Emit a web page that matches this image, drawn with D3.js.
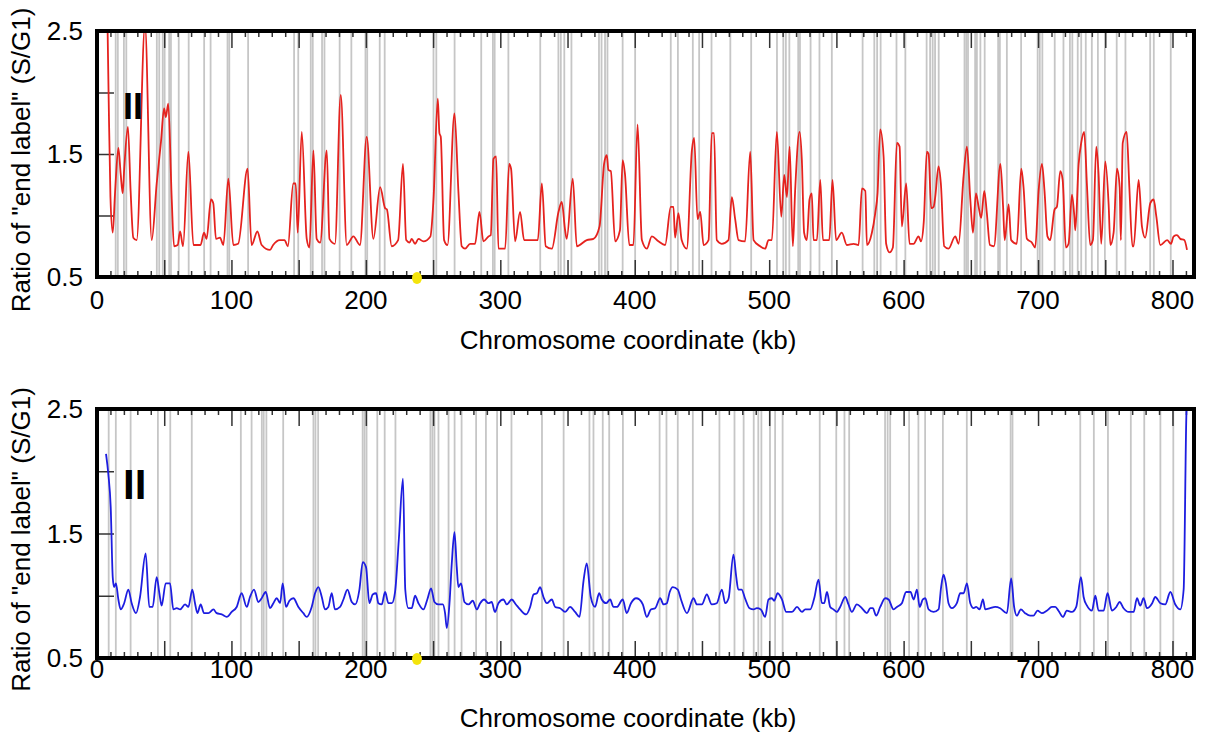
<!DOCTYPE html>
<html>
<head>
<meta charset="utf-8">
<script src="https://cdn.jsdelivr.net/npm/d3@7"></script>
<style>
  body { margin: 0; background: #fff; }
  svg text { font-family: "Liberation Sans", Arial, Helvetica, sans-serif; fill: #000; }
</style>
</head>
<body>
<div id="graphicContainer"></div>
<script>

// red profile (top), kb / ratio
var redProfile = [
[7.2,3.0],[8.6,2.0],[10.0,1.15],[11.7,0.86],[13.4,1.18],[15.9,1.55],[17.6,1.34],[19.1,1.18],[20.2,1.37],[23.0,1.72],[25.0,1.2],[27.0,0.82],[29.5,0.80],
[35.7,2.55],[40.7,0.80],[44.4,1.26],[47.6,1.60],[49.9,1.87],[51.2,1.80],[53.0,1.91],[55.6,1.13],[57.3,0.75],[60.0,0.76],[61.8,0.87],[64.0,0.75],
[68.0,1.52],[71.7,0.76],[77.0,0.76],[79.6,0.86],[81.5,0.81],[84.8,1.13],[86.5,1.10],[88.5,0.81],[91.5,0.82],[94.0,0.76],[97.7,1.30],[101.4,0.76],
[105.0,0.77],[112.0,1.38],[115.0,0.76],[119.3,0.87],[122.5,0.76],[128.7,0.72],[131.0,0.76],[136.0,0.80],[139.5,0.80],[142.0,0.75],[146.0,1.26],
[147.8,1.26],[149.3,0.86],[152.3,1.68],[156.0,0.81],[158.0,0.74],[161.0,1.53],[163.4,0.81],[166.0,0.78],[170.9,1.53],[172.9,0.81],[177.0,0.77],
[181.3,1.98],[185.8,0.76],[190.7,0.83],[195.6,0.76],[200.6,1.64],[205.6,0.81],[210.6,1.23],[214.3,1.06],[215.6,1.05],[219.2,0.75],[224.0,0.80],
[227.6,1.42],[230.0,0.80],[232.5,0.78],[234.1,0.81],[236.6,0.77],[239.1,0.81],[242.8,0.79],[248.0,0.83],[250.3,1.13],[253.5,1.95],[254.7,1.67],
[255.7,1.64],[258.2,0.80],[260.7,0.76],[265.9,1.83],[268.9,1.18],[271.3,0.75],[273.8,0.73],[277.5,0.77],[281.2,0.77],[284.5,1.03],[287.4,0.79],
[291.2,0.83],[292.9,0.84],[294.9,1.46],[296.9,1.48],[298.6,0.73],[303.6,0.73],[306.6,1.42],[308.0,1.38],[311.0,0.79],[314.7,1.03],[317.7,0.80],
[322.2,0.80],[327.9,0.80],[330.9,1.26],[333.8,0.75],[338.3,0.73],[343.3,1.03],[345.7,1.11],[348.2,0.88],[349.4,0.81],[353.9,1.30],[356.9,0.75],
[364.3,0.80],[369.3,0.81],[373.8,0.91],[377.2,1.42],[379.2,1.49],[380.4,1.37],[382.2,1.36],[385.4,0.79],[389.0,0.88],[391.0,1.45],[392.7,1.34],
[396.0,0.76],[399.0,0.76],[402.1,1.74],[405.3,0.80],[409.0,0.73],[412.7,0.83],[417.6,0.79],[422.6,0.76],[426.8,1.07],[428.8,1.07],[430.0,0.82],
[432.5,1.02],[434.9,0.80],[438.7,0.73],[442.5,1.53],[444.2,1.63],[446.7,0.97],[448.7,1.03],[451.2,0.76],[454.9,0.80],[457.3,1.67],[459.0,1.67],
[461.0,0.80],[464.7,0.77],[469.7,0.80],[472.2,1.15],[474.7,0.97],[477.2,0.80],[482.1,0.79],[485.9,1.52],[488.4,0.80],[493.3,0.75],[497.0,0.73],
[499.5,0.80],[502.0,0.80],[505.7,1.68],[509.0,0.99],[511.2,1.33],[513.2,1.15],[515.2,1.56],[517.6,0.75],[519.3,1.20],[522.6,1.68],[524.3,1.45],
[526.0,0.86],[528.0,0.80],[530.0,1.13],[531.7,1.18],[533.0,0.80],[535.5,0.80],[538.0,1.29],[540.0,0.80],[544.7,0.80],[547.1,1.29],[549.8,0.80],
[554.0,0.86],[557.8,0.76],[562.8,0.77],[566.5,0.76],[569.0,1.22],[571.5,1.20],[572.7,0.76],[576.4,0.86],[578.9,1.02],[580.6,1.18],[582.6,1.70],
[585.1,1.48],[587.0,0.77],[589.5,0.70],[592.0,0.74],[595.0,1.59],[597.0,1.56],[598.7,0.91],[601.9,1.26],[604.4,0.77],[607.4,0.77],[611.1,0.83],
[612.9,0.79],[615.0,0.95],[617.3,1.52],[618.6,1.50],[620.5,1.06],[622.3,1.07],[623.5,1.15],[626.0,1.40],[627.7,1.26],[630.2,0.75],[633.4,0.73],
[638.4,0.83],[640.9,0.77],[644.6,1.32],[647.1,1.56],[649.6,1.13],[651.6,0.86],[653.8,1.18],[655.8,1.07],[657.7,0.98],[660.0,1.20],[661.9,1.02],
[664.2,0.76],[667.2,0.75],[672.0,1.42],[674.0,1.07],[675.2,0.80],[678.1,1.09],[680.0,0.80],[684.2,0.77],[687.5,1.38],[689.2,1.23],[691.7,0.81],
[695.4,0.78],[697.9,0.74],[700.4,1.20],[702.9,1.42],[704.8,1.20],[707.0,0.83],[709.0,0.80],[712.3,1.05],[714.0,1.07],[716.5,1.36],[718.3,1.29],
[720.7,0.74],[722.7,0.77],[725.2,1.17],[727.0,0.99],[727.7,0.88],[730.2,1.42],[732.1,1.59],[734.3,1.68],[736.4,1.24],[738.8,0.76],[740.8,0.80],
[743.3,1.56],[745.0,1.34],[747.0,0.77],[750.0,1.44],[752.5,1.09],[753.8,0.76],[756.2,0.86],[758.7,1.38],[760.7,1.23],[761.6,0.80],[763.0,1.59],
[765.9,1.68],[767.9,1.23],[770.2,0.75],[771.1,0.75],[774.8,1.29],[777.3,0.91],[779.7,0.82],[783.5,1.10],[786.0,1.13],[788.0,0.99],[790.9,0.76],
[796.0,0.80],[798.9,0.77],[800.8,0.83],[803.3,0.84],[805.8,0.81],[808.8,0.80],[810.8,0.72]
]

// blue profile (bottom), kb / ratio
var blueProfile = [
[6.7,2.14],[8.4,1.98],[10.2,1.71],[11.7,1.15],[12.7,1.07],[14.1,1.10],[15.9,0.97],[17.6,0.89],[20.2,0.94],[23.3,1.05],[25.8,0.94],[29.0,0.86],
[32.0,0.99],[36.2,1.34],[38.9,0.91],[41.4,0.91],[44.4,1.15],[46.4,1.02],[48.1,0.92],[51.1,1.10],[54.3,1.10],[56.8,0.89],[59.3,0.90],[61.8,0.89],
[65.5,0.93],[68.0,0.91],[70.9,1.05],[72.9,0.94],[74.7,0.86],[77.1,0.93],[79.6,0.86],[82.8,0.86],[86.6,0.89],[89.0,0.86],[92.8,0.85],[96.5,0.83],
[100.2,0.87],[103.9,0.91],[107.6,1.02],[111.4,0.91],[113.8,0.99],[116.8,1.05],[120.0,0.95],[122.5,0.98],[125.5,1.03],[128.7,0.90],[131.2,0.94],
[133.7,0.98],[136.2,0.94],[138.1,1.10],[140.6,0.91],[143.1,0.96],[146.1,0.98],[149.8,0.91],[153.5,0.86],[156.0,0.83],[159.7,0.91],[162.2,1.02],
[164.7,1.07],[167.2,0.99],[169.6,0.89],[172.1,0.91],[174.6,1.02],[177.0,0.89],[180.8,0.91],[183.3,0.97],[186.3,1.05],[189.5,0.95],[192.0,0.93],
[195.2,1.05],[197.7,1.27],[200.1,1.23],[202.6,0.94],[205.1,1.01],[207.6,1.02],[209.3,0.94],[211.8,0.93],[214.3,1.03],[216.8,0.94],[219.3,0.94],
[221.7,1.03],[224.5,1.45],[227.6,1.94],[229.3,1.05],[231.6,0.90],[234.1,0.90],[236.6,1.00],[239.1,0.94],[242.8,0.89],[245.7,0.97],[248.5,1.06],
[251.0,0.95],[253.9,0.93],[257.2,0.93],[258.9,0.86],[260.2,0.74],[262.2,0.94],[263.9,1.26],[265.9,1.51],[267.6,1.23],[268.8,1.07],[270.8,1.10],
[273.3,0.95],[276.3,0.93],[279.5,0.96],[282.5,0.89],[285.0,0.94],[288.0,0.97],[291.2,0.94],[293.6,0.95],[296.0,0.87],[298.6,0.94],[302.3,0.97],
[304.8,0.93],[308.5,0.97],[311.6,0.93],[314.7,0.89],[319.2,0.85],[322.2,0.91],[324.7,1.01],[327.2,1.02],[329.6,1.07],[332.1,0.99],[334.6,0.94],
[338.3,0.97],[340.8,0.91],[344.5,0.90],[348.2,0.87],[351.9,0.91],[355.6,0.87],[358.9,0.83],[361.9,1.12],[364.3,1.26],[367.3,0.99],[370.5,0.91],
[373.5,1.02],[375.5,0.97],[378.7,0.94],[381.7,0.97],[384.2,0.91],[386.7,0.91],[391.1,0.97],[394.0,0.86],[397.2,0.94],[401.0,0.98],[403.5,0.97],
[406.0,0.93],[409.0,0.83],[412.0,0.89],[415.2,0.90],[418.9,0.98],[421.4,0.93],[423.9,0.94],[426.0,1.03],[428.3,1.07],[432.0,1.05],[434.4,0.97],
[438.8,0.86],[443.7,0.98],[446.2,0.93],[449.9,0.93],[453.6,1.01],[457.3,0.93],[461.0,0.94],[464.8,1.05],[467.3,0.94],[469.8,0.98],[473.4,1.33],
[475.4,1.16],[477.0,1.05],[479.5,1.05],[482.0,0.98],[485.4,0.90],[488.4,0.89],[490.8,0.90],[493.8,0.89],[497.0,0.83],[499.5,0.97],[502.0,0.98],
[503.7,0.96],[506.3,1.02],[509.5,0.97],[512.7,0.87],[517.0,0.87],[520.7,0.91],[524.4,0.87],[526.8,0.89],[530.5,0.89],[533.5,0.98],[536.7,1.13],
[539.2,0.94],[540.9,0.94],[543.0,1.03],[545.4,0.91],[547.9,0.89],[550.3,0.87],[552.8,0.91],[556.6,0.99],[559.0,0.93],[561.5,0.87],[565.2,0.93],
[569.0,0.90],[572.7,0.86],[575.2,0.90],[577.1,0.90],[579.6,0.84],[582.6,0.91],[586.3,0.98],[588.8,0.97],[592.5,0.89],[595.0,0.91],[598.7,0.94],
[601.9,1.03],[605.1,1.03],[607.5,0.97],[609.9,1.05],[611.9,0.91],[614.3,0.97],[616.1,0.98],[618.6,0.89],[622.3,0.87],[626.0,0.89],[627.9,1.07],
[629.7,1.17],[631.4,1.10],[633.4,0.94],[635.9,0.90],[639.6,0.94],[642.1,1.02],[644.6,1.02],[647.1,1.10],[649.6,0.94],[652.1,0.90],[654.0,0.91],
[656.5,0.89],[659.0,0.97],[660.7,0.89],[664.4,0.90],[668.1,0.91],[671.8,0.90],[676.8,0.86],[680.0,1.14],[682.2,0.91],[684.2,0.84],[687.2,0.89],
[690.4,0.86],[694.1,0.84],[696.6,0.84],[699.6,0.88],[702.8,0.86],[706.5,0.88],[710.3,0.91],[712.8,0.91],[715.2,0.88],[718.5,0.83],[721.4,0.88],
[725.2,0.87],[728.4,0.91],[731.9,1.15],[733.9,0.99],[736.4,0.92],[740.1,0.88],[742.6,1.00],[745.0,0.88],[748.8,0.88],[751.7,1.02],[755.0,0.88],
[758.2,0.91],[760.7,0.95],[763.6,0.90],[767.4,0.87],[771.1,0.87],[773.6,0.98],[776.0,0.92],[778.5,0.98],[781.0,0.90],[784.9,0.94],[787.2,0.99],
[791.0,0.94],[794.6,0.93],[798.4,1.03],[802.1,0.93],[805.8,0.89],[808.3,1.05],[810.3,2.44],[811.3,2.7]
]

// origin positions (kb) shown as grey lines
var redOrigins = [13.9,15.5,20,21.8,44.5,46.3,48.9,50.3,53.7,55,60.8,68.2,79.7,84.5,97.1,98.4,112.4,146.6,149.7,159,160.5,167.4,169.2,
180.5,189.2,199.7,201,210.3,214,250.3,252.4,266,285.8,294.5,295.8,306,329.7,343.2,345,347.6,352.9,373.4,375.3,377.9,379.7,391,400.3,
426.8,432.1,443.2,447.9,457.1,471.1,486.6,505.8,510.5,512.4,515,521.6,522.9,530.8,537.4,546.6,569.5,578.2,580.3,582.9,594.7,601.3,
617.1,619.7,621.6,623.4,626.1,645.3,646.6,647.9,653.2,654.5,657.1,660.3,670.3,671.6,676.8,687.4,699.7,701.3,703.2,712.4,718.9,723.7,
725.5,729.5,732.1,735.5,740,744.5,749.7,758.5,765,783.4,786.1,798.7]

var blueOrigins = [8.7,14,25,45.3,54.5,70.5,107,115,122.6,124,126,138.5,161,162.5,164.5,197.6,199,200.5,208.5,214,222,248,249.5,251,254,
261.5,266,271.2,282,289.3,297.6,308.3,331,347.1,366.3,369.3,376.2,381,391.2,418.5,423.6,432,443.2,463,474.2,481,488.5,491.9,494.2,
500.6,504.4,510,537.6,549.9,556,559.5,586.2,588.1,590,604.1,611,616,629.2,647,679.6,681,731.4,741.5,752,769,779,791,800.6]

var centromere = 238
var xLabels = [0,100,200,300,400,500,600,700,800]
var yLabels = [0.5,1.5,2.5]
var yTicks = [1.0,1.5,2.0]

var panels = [
	{ data: redProfile, origins: redOrigins, color: "#e5221e", top: 31, bottom: 277, tickBase: 309, title: 349, roman: 36, romanY: 119, labelShift: 6 },
	{ data: blueProfile, origins: blueOrigins, color: "#1d1de0", top: 409, bottom: 658, tickBase: 678, title: 727, roman: 42, romanY: 499, labelShift: 6 }
]

var width = 1205, height = 742

var svg = d3.select("#graphicContainer").append("svg")
	.attr("width", width)
	.attr("height", height)

var x = d3.scaleLinear().domain([0, 816]).range([97, 1194])

panels.forEach(function (p, i) {

	var y = d3.scaleLinear().domain([0.5, 2.5]).range([p.bottom, p.top])
	var g = svg.append("g")

	g.append("clipPath").attr("id", "clip" + i)
		.append("rect")
		.attr("x", x(0)).attr("y", p.top)
		.attr("width", x(816) - x(0)).attr("height", p.bottom - p.top)

	// grey origin lines
	g.selectAll(".origin")
		.data(p.origins)
		.enter()
		.append("line")
		.attr("x1", d => x(d)).attr("x2", d => x(d))
		.attr("y1", p.top).attr("y2", p.bottom)
		.attr("stroke", "#c6c6c6")
		.attr("stroke-width", 1.8)

	// inward ticks, minor every 10 kb, major every 50
	var minor = d3.range(10, 811, 10).filter(d => d % 50 != 0)
	var major = d3.range(50, 801, 50)
	;[[d3.axisBottom, p.bottom], [d3.axisTop, p.top]].forEach(function (a) {
		g.append("g").attr("transform", "translate(0," + a[1] + ")")
			.call(a[0](x).tickValues(minor).tickSize(-6).tickFormat(""))
		g.append("g").attr("transform", "translate(0," + a[1] + ")")
			.call(a[0](x).tickValues(major).tickSize(-17).tickFormat(""))
	})

	g.append("g").attr("transform", "translate(" + x(0) + ",0)")
		.call(d3.axisLeft(y).tickValues(yTicks).tickSize(-17).tickFormat(""))

	g.selectAll(".domain").remove()
	g.selectAll(".tick line").attr("stroke", "#333").attr("stroke-width", 1.5)

	// profile line
	var line = d3.line().x(d => x(d[0])).y(d => y(d[1])).curve(d3.curveMonotoneX)

	g.append("path")
		.datum(p.data)
		.attr("clip-path", "url(#clip" + i + ")")
		.attr("d", line)
		.attr("fill", "none")
		.attr("stroke", p.color)
		.attr("stroke-width", 1.8)
		.attr("stroke-linejoin", "round")

	// frame
	g.append("rect")
		.attr("x", x(0)).attr("y", p.top)
		.attr("width", x(816) - x(0)).attr("height", p.bottom - p.top)
		.attr("fill", "none")
		.attr("stroke", "#000")
		.attr("stroke-width", 4)

	// centromere marker
	g.append("ellipse")
		.attr("cx", x(centromere)).attr("cy", p.bottom + 1)
		.attr("rx", 5).attr("ry", 6)
		.attr("fill", "#f4e40c")

	// tick labels
	g.selectAll(".xlab")
		.data(xLabels)
		.enter()
		.append("text")
		.attr("x", d => x(d))
		.attr("y", p.tickBase)
		.attr("text-anchor", "middle")
		.attr("font-size", 26)
		.text(d => d)

	g.selectAll(".ylab")
		.data(yLabels)
		.enter()
		.append("text")
		.attr("x", 83)
		.attr("y", d => y(d) + 9)
		.attr("text-anchor", "end")
		.attr("font-size", 26)
		.text(d => d3.format(".1f")(d))

	g.append("text")
		.attr("x", x(395))
		.attr("y", p.title)
		.attr("text-anchor", "middle")
		.attr("font-size", 26)
		.text("Chromosome coordinate (kb)")

	g.append("text")
		.attr("transform", "translate(30," + ((p.top + p.bottom) / 2 + p.labelShift) + ") rotate(-90)")
		.attr("text-anchor", "middle")
		.attr("font-size", 26)
		.text('Ratio of "end label" (S/G1)')

	g.append("text")
		.attr("x", 123)
		.attr("y", p.romanY)
		.attr("font-size", p.roman)
		.attr("font-weight", "bold")
		.text("II")
})

</script>
</body>
</html>
